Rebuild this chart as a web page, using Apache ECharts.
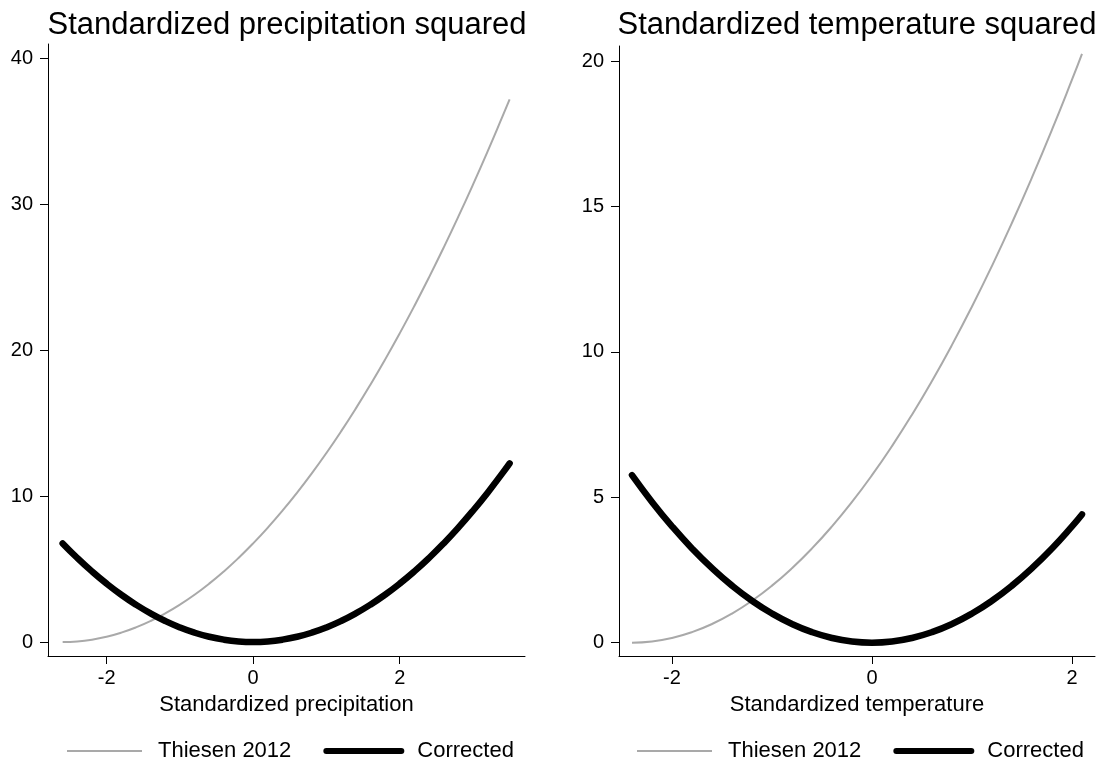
<!DOCTYPE html>
<html>
<head>
<meta charset="utf-8">
<title>Standardized squared terms</title>
<script src="https://cdn.jsdelivr.net/npm/echarts@6/dist/echarts.min.js"></script>
<style>
  html, body { margin: 0; padding: 0; background: #fff; }
  #chart { width: 1103px; height: 767px; }
</style>
</head>
<body>
<div id="chart"></div>
<script>
// series names
var seriesNames = ['Thiesen 2012', 'Corrected'];
var panelTitles = ['Standardized precipitation squared', 'Standardized temperature squared'];
var axisNames = ['Standardized precipitation', 'Standardized temperature'];

// tick labels
var precipXTicks = [-2, 0, 2];
var precipYTicks = [0, 10, 20, 30, 40];
var tempXTicks = [-2, 0, 2];
var tempYTicks = [0, 5, 10, 15, 20];

// precipitation panel
var precipX = [-2.6, -2.4, -2.2, -2.0, -1.8, -1.6, -1.4, -1.2, -1.0, -0.8, -0.6, -0.4, -0.2, 0,
    0.2, 0.4, 0.6, 0.8, 1.0, 1.2, 1.4, 1.6, 1.8, 2.0, 2.2, 2.4, 2.6, 2.8, 3.0, 3.2, 3.4, 3.5];
var precipThiesen = [0, 0.04, 0.16, 0.36, 0.64, 1.0, 1.44, 1.96, 2.56, 3.24, 4.0, 4.84, 5.76, 6.76,
    7.84, 9.0, 10.24, 11.56, 12.96, 14.44, 16.0, 17.64, 19.36, 21.16, 23.04, 25.0, 27.04, 29.16, 31.36, 33.64, 36.0, 37.2];
var precipCorrected = [6.76, 5.76, 4.84, 4.0, 3.24, 2.56, 1.96, 1.44, 1.0, 0.64, 0.36, 0.16, 0.04, 0,
    0.04, 0.16, 0.36, 0.64, 1.0, 1.44, 1.96, 2.56, 3.24, 4.0, 4.84, 5.76, 6.76, 7.84, 9.0, 10.24, 11.56, 12.25];

// temperature panel
var tempX = [-2.4, -2.2, -2.0, -1.8, -1.6, -1.4, -1.2, -1.0, -0.8, -0.6, -0.4, -0.2, 0,
    0.2, 0.4, 0.6, 0.8, 1.0, 1.2, 1.4, 1.6, 1.8, 2.0, 2.1];
var tempThiesen = [0, 0.04, 0.16, 0.36, 0.64, 1.0, 1.44, 1.96, 2.56, 3.24, 4.0, 4.84, 5.76,
    6.76, 7.84, 9.0, 10.24, 11.56, 12.96, 14.44, 16.0, 17.64, 19.36, 20.25];
var tempCorrected = [5.76, 4.84, 4.0, 3.24, 2.56, 1.96, 1.44, 1.0, 0.64, 0.36, 0.16, 0.04, 0,
    0.04, 0.16, 0.36, 0.64, 1.0, 1.44, 1.96, 2.56, 3.24, 4.0, 4.41];

function zip(xs, ys) {
    var out = [];
    for (var i = 0; i < xs.length; i++) {
        out.push([xs[i], ys[i]]);
    }
    return out;
}

var font = "'Liberation Sans', Arial, Helvetica, sans-serif";
var grey = '#a9a9a9';

function makeXAxis(idx, min, max, ticks) {
    return {
        type: 'value',
        gridIndex: idx,
        min: min,
        max: max,
        name: axisNames[idx],
        nameLocation: 'middle',
        nameGap: 38,
        nameTextStyle: {color: '#000', fontSize: 22, fontFamily: font},
        splitLine: {show: false},
        axisLine: {onZero: false, lineStyle: {color: '#000', width: 1}},
        axisTick: {length: 8, customValues: ticks, lineStyle: {color: '#000'}},
        axisLabel: {customValues: ticks, margin: 12, color: '#000', fontSize: 20, fontFamily: font}
    };
}

function makeYAxis(idx, min, max, ticks) {
    return {
        type: 'value',
        gridIndex: idx,
        min: min,
        max: max,
        splitLine: {show: false},
        axisLine: {show: true, onZero: false, lineStyle: {color: '#000', width: 1}},
        axisTick: {show: true, length: 8, customValues: ticks, lineStyle: {color: '#000'}},
        axisLabel: {customValues: ticks, margin: 15, color: '#000', fontSize: 20, fontFamily: font}
    };
}

function makeLegend(left) {
    return {
        left: left,
        top: 740,
        padding: 0,
        itemWidth: 75,
        itemHeight: 14,
        itemGap: 32,
        selectedMode: false,
        textStyle: {color: '#000', fontSize: 22, fontFamily: font, padding: [0, 0, 0, 11]},
        data: [
            {name: seriesNames[0], itemStyle: {opacity: 0}, lineStyle: {width: 2, color: grey}},
            {name: seriesNames[1], itemStyle: {opacity: 0}, lineStyle: {width: 6, color: '#000'}}
        ]
    };
}

function greySeries(idx, data) {
    return {
        name: seriesNames[0],
        type: 'line',
        xAxisIndex: idx,
        yAxisIndex: idx,
        data: data,
        smooth: true,
        symbol: 'none',
        color: grey,
        lineStyle: {color: grey, width: 2}
    };
}

function blackSeries(idx, data) {
    return {
        name: seriesNames[1],
        type: 'line',
        xAxisIndex: idx,
        yAxisIndex: idx,
        data: data,
        smooth: true,
        symbol: 'none',
        color: '#000',
        lineStyle: {color: '#000', width: 6.5, cap: 'round'}
    };
}

var myChart = echarts.init(document.getElementById('chart'));

var option = {
    backgroundColor: '#fff',
    animation: false,
    title: [
        {text: panelTitles[0], left: 287, top: 10, padding: 0, textAlign: 'center',
            textStyle: {color: '#000', fontSize: 31, fontWeight: 'normal', fontFamily: font}},
        {text: panelTitles[1], left: 857, top: 10, padding: 0, textAlign: 'center',
            textStyle: {color: '#000', fontSize: 31, fontWeight: 'normal', fontFamily: font}}
    ],
    legend: [makeLegend(66), makeLegend(636)],
    grid: [
        {left: 48, right: 578, top: 44, bottom: 111},
        {left: 619, right: 8, top: 46, bottom: 111}
    ],
    xAxis: [
        makeXAxis(0, -2.80, 3.71, precipXTicks),
        makeXAxis(1, -2.53, 2.23, tempXTicks)
    ],
    yAxis: [
        makeYAxis(0, -0.96, 41.0, precipYTicks),
        makeYAxis(1, -0.46, 20.52, tempYTicks)
    ],
    series: [
        greySeries(0, zip(precipX, precipThiesen)),
        blackSeries(0, zip(precipX, precipCorrected)),
        greySeries(1, zip(tempX, tempThiesen)),
        blackSeries(1, zip(tempX, tempCorrected))
    ]
};

myChart.setOption(option);
</script>
</body>
</html>
